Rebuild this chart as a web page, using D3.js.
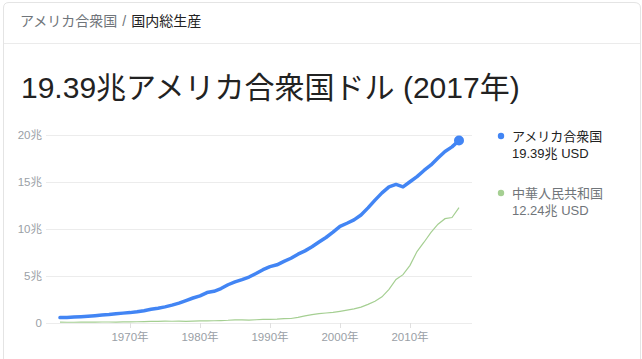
<!DOCTYPE html>
<html>
<head>
<meta charset="utf-8">
<script src="https://cdn.jsdelivr.net/npm/d3@7"></script>
<style>
	body{margin:0;background:#fff;font-family:Arial,"Liberation Sans","Noto Sans CJK JP",sans-serif;}
	svg{display:block;}
</style>
</head>
<body>
<svg id="chart" width="642" height="359"></svg>
<script>
// GDP, current USD, in 兆 (trillions)
var years = d3.range(1960, 2018);
var usGdp = [0.543,0.563,0.605,0.638,0.686,0.744,0.815,0.862,0.943,1.019,
	1.073,1.165,1.280,1.425,1.545,1.684,1.873,2.082,2.352,2.627,
	2.857,3.207,3.343,3.634,4.037,4.339,4.580,4.855,5.236,5.642,
	5.963,6.158,6.520,6.859,7.287,7.640,8.073,8.578,9.063,9.631,
	10.252,10.582,10.936,11.458,12.214,13.037,13.815,14.452,14.713,14.449,
	14.992,15.543,16.197,16.785,17.522,18.219,18.707,19.391];
var cnGdp = [0.060,0.050,0.047,0.051,0.060,0.070,0.077,0.073,0.071,0.080,
	0.093,0.100,0.114,0.139,0.144,0.163,0.154,0.175,0.150,0.178,
	0.191,0.196,0.205,0.230,0.260,0.309,0.301,0.272,0.312,0.348,
	0.361,0.383,0.427,0.445,0.564,0.735,0.864,0.962,1.029,1.094,
	1.211,1.339,1.471,1.660,1.955,2.286,2.752,3.552,4.598,5.110,
	6.101,7.573,8.561,9.607,10.482,11.065,11.191,12.238];
var seriesNames = ["アメリカ合衆国","中華人民共和国"];
var seriesLabels = ["19.39兆 USD","12.24兆 USD"];
var yTicks = [0,5,10,15,20];
var yTickLabels = ["0","5兆","10兆","15兆","20兆"];
var xTicks = [1970,1980,1990,2000,2010];

var Chart = (function(){
	var svg = d3.select("#chart");
	var font = 'Arial,"Liberation Sans","Noto Sans CJK JP",sans-serif';

	var drawCard = function(){
		svg.append("path")
			.attr("d","M3.5,359 L3.5,8 Q3.5,2.5 9,2.5 L634,2.5 Q640.5,2.5 640.5,8 L640.5,359")
			.attr("fill","none")
			.attr("stroke","#e4e4e4");
		svg.append("line")
			.attr("x1",4).attr("x2",640)
			.attr("y1",43.5).attr("y2",43.5)
			.attr("stroke","#ebebeb");

		var crumb = svg.append("text")
			.attr("x",20).attr("y",26)
			.attr("font-family",font)
			.attr("font-size",14);
		crumb.append("tspan").attr("fill","#70757a").text("アメリカ合衆国");
		crumb.append("tspan").attr("fill","#70757a").attr("dx",5).text("/");
		crumb.append("tspan").attr("fill","#222").attr("dx",5).text("国内総生産");

		svg.append("text")
			.attr("x",21).attr("y",97.5)
			.attr("font-family",font)
			.attr("font-size",30)
			.attr("fill","#222")
			.text("19.39兆アメリカ合衆国ドル (2017年)");
	}

	var drawPlot = function(){
		var x = d3.scaleLinear().domain([1960,2017]).range([60,459]);
		var y = d3.scaleLinear().domain([0,20]).range([322.7,134.7]);
		var g = svg.append("g");

		g.selectAll(".grid")
			.data(yTicks)
			.enter()
			.append("line")
			.attr("x1",46).attr("x2",472)
			.attr("y1",function(d){return Math.round(y(d))+0.5;})
			.attr("y2",function(d){return Math.round(y(d))+0.5;})
			.attr("stroke","#ececec");

		g.selectAll(".ylab")
			.data(yTicks)
			.enter()
			.append("text")
			.attr("x",42)
			.attr("y",function(d){return y(d)+4;})
			.attr("text-anchor","end")
			.attr("font-family",font)
			.attr("font-size",11.5)
			.attr("fill","#9aa0a6")
			.text(function(d,i){return yTickLabels[i];});

		g.selectAll(".xtick")
			.data(xTicks)
			.enter()
			.append("line")
			.attr("x1",function(d){return Math.round(x(d))+0.5;})
			.attr("x2",function(d){return Math.round(x(d))+0.5;})
			.attr("y1",323).attr("y2",328)
			.attr("stroke","#e0e0e0");

		g.selectAll(".xlab")
			.data(xTicks)
			.enter()
			.append("text")
			.attr("x",function(d){return x(d);})
			.attr("y",341)
			.attr("text-anchor","middle")
			.attr("font-family",font)
			.attr("font-size",11.5)
			.attr("fill","#9aa0a6")
			.text(function(d){return d+"年";});

		var line = d3.line()
			.x(function(d,i){return x(years[i]);})
			.y(function(d){return y(d);});

		g.append("path")
			.attr("d",line(cnGdp))
			.attr("fill","none")
			.attr("stroke","#a5cf92")
			.attr("stroke-width",1.2);

		g.append("path")
			.attr("d",line(usGdp))
			.attr("fill","none")
			.attr("stroke","#4285f4")
			.attr("stroke-width",3.5)
			.attr("stroke-linejoin","round")
			.attr("stroke-linecap","round");

		g.append("circle")
			.attr("cx",x(years[years.length-1]))
			.attr("cy",y(usGdp[usGdp.length-1]))
			.attr("r",5)
			.attr("fill","#4285f4");
	}

	var drawLegend = function(){
		var colors = ["#4285f4","#a5cf92"];
		var textColors = ["#222","#70757a"];
		var items = svg.selectAll(".legend")
			.data(seriesNames)
			.enter()
			.append("g")
			.attr("transform",function(d,i){return "translate(501,"+(136+i*57)+")";});
		items.append("circle")
			.attr("r",3.2)
			.attr("fill",function(d,i){return colors[i];});
		items.append("text")
			.attr("x",11).attr("y",4.5)
			.attr("font-family",font)
			.attr("font-size",13)
			.attr("fill",function(d,i){return textColors[i];})
			.text(function(d){return d;});
		items.append("text")
			.attr("x",11).attr("y",21.5)
			.attr("font-family",font)
			.attr("font-size",13)
			.attr("fill",function(d,i){return textColors[i];})
			.text(function(d,i){return seriesLabels[i];});
	}

	return {
		render : function(){
			drawCard();
			drawPlot();
			drawLegend();
		}
	}
})();

Chart.render();
</script>
</body>
</html>
